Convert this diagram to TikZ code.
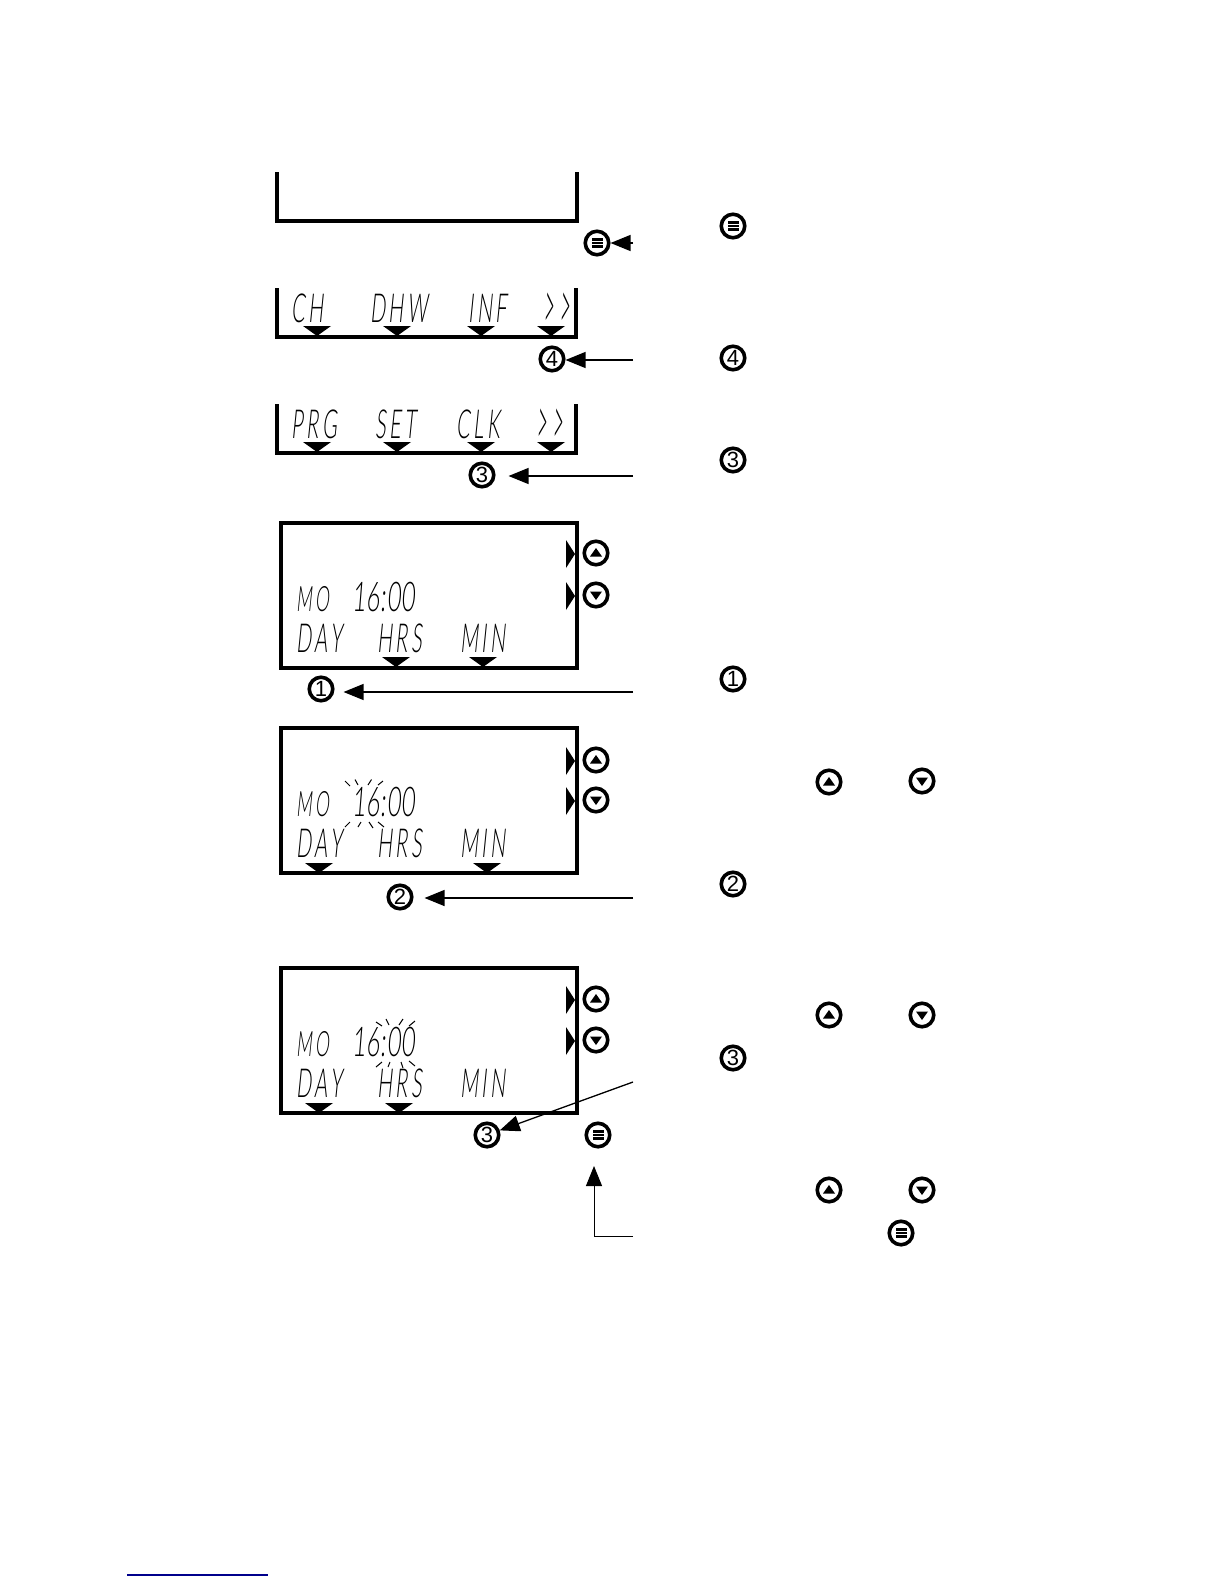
\documentclass[tikz,border=0pt]{standalone}
\usepackage{fontspec}
\setmainfont{Liberation Sans}
\newfontfamily\lcdfont[UprightFont=* Light,FakeStretch=0.5,FakeSlant=0.1,LetterSpace=9]{Lato}
\newfontfamily\lcdwide[UprightFont=* Light,FakeStretch=0.57,FakeSlant=0.08,LetterSpace=2]{Lato}
\newfontfamily\lcdchev[UprightFont=* Light,FakeStretch=0.45,FakeSlant=0.1,LetterSpace=14]{Lato}
\usetikzlibrary{arrows.meta}
\tikzset{
  panelline/.style={line width=3.3pt},
  lcdframe/.style={line width=4pt},
  arrtip/.style={-{Triangle[length=20pt,width=16pt]}},
  arr/.style={line width=1.3pt,arrtip},
  lcdtxt/.style={anchor=base west,inner sep=0pt,font=\lcdfont\fontsize{40}{40}\selectfont},
  lcdsmall/.style={anchor=base west,inner sep=0pt,font=\lcdfont\fontsize{35}{35}\selectfont},
  lcdclock/.style={anchor=base west,inner sep=0pt,font=\lcdwide\fontsize{41}{41}\selectfont},
  lcdarrows/.style={anchor=base west,inner sep=0pt,font=\lcdchev\fontsize{40}{40}\selectfont},
  tick/.style={line width=1pt},
  btn/.style={circle,draw=black,fill=white,line width=3.6pt,minimum size=23.5pt,inner sep=0pt,font=\fontsize{22}{22}\selectfont},
  menubtn/.style={btn,path picture={
    \fill[black] ([xshift=-5.5pt,yshift=-5pt]path picture bounding box.center) rectangle ++(11pt,2.6pt);
    \fill[black] ([xshift=-5.5pt,yshift=-1.3pt]path picture bounding box.center) rectangle ++(11pt,2.6pt);
    \fill[black] ([xshift=-5.5pt,yshift=2.4pt]path picture bounding box.center) rectangle ++(11pt,2.6pt);}},
  upbtn/.style={btn,path picture={
    \fill[black] ([xshift=-6pt,yshift=-3.5pt]path picture bounding box.center) -- ++(12pt,0) -- ++(-6pt,8.5pt) -- cycle;}},
  downbtn/.style={btn,path picture={
    \fill[black] ([xshift=-6pt,yshift=3.5pt]path picture bounding box.center) -- ++(12pt,0) -- ++(-6pt,-8.5pt) -- cycle;}},
}
\newcommand{\softmark}[2]{\fill (#1-14,#2) -- (#1+14,#2) -- (#1,#2+10) -- cycle;}
\newcommand{\sidemark}[1]{\fill (566,#1-14) -- (575,#1) -- (566,#1+14) -- cycle;}
\newcommand{\tall}[1]{\scalebox{1}[1.7]{#1}}
\begin{document}
\begin{tikzpicture}[x=1pt,y=-1pt]
\useasboundingbox (0,0) rectangle (1224,1584);

% panel 1
\draw[panelline] (277,172) -- (277,221) -- (577,221) -- (577,172);
\node[menubtn] (m1) at (597,243) {};
\coordinate (t1) at (633,243);
\draw[arr] (t1) -- (m1);

% panel 2
\draw[panelline] (277,288) -- (277,337) -- (576,337) -- (576,288);
\node[lcdtxt] (p2a) at (291,322) {CH};
\node[lcdtxt] (p2b) at (370,322) {DHW};
\node[lcdtxt] (p2c) at (468,322) {INF};
\node[lcdarrows] (p2d) at (543,329) {\tall{>>}};
\softmark{317}{326}\softmark{397}{326}\softmark{481}{326}\softmark{551}{326}
\node[btn] (c4) at (552,359) {4};
\coordinate (t4) at (633,360);
\draw[arr] (t4) -- (c4.east |- t4);

% panel 3
\draw[panelline] (277,404) -- (277,453) -- (576,453) -- (576,404);
\node[lcdtxt] (p3a) at (291,438) {PRG};
\node[lcdtxt] (p3b) at (375,438) {SET};
\node[lcdtxt] (p3c) at (456,438) {CLK};
\node[lcdarrows] (p3d) at (536,445) {\tall{>>}};
\softmark{317}{442}\softmark{397}{442}\softmark{481}{442}\softmark{551}{442}
\node[btn] (c3a) at (482,475) {3};
\coordinate (t3a) at (633,476);
\draw[arr,shorten >=13pt] (t3a) -- (c3a.east |- t3a);

% panel 4
\draw[lcdframe] (281,523) rectangle (577,668);
\node[lcdsmall] (p4mo) at (296,611) {MO};
\node[lcdclock] (p4clk) at (352,611) {16:00};
\node[lcdtxt] (p4a) at (296,652) {DAY};
\node[lcdtxt] (p4b) at (377,652) {HRS};
\node[lcdtxt] (p4c) at (460,652) {MIN};
\softmark{396}{657}\softmark{483}{657}
\sidemark{554}\sidemark{596}
\node[upbtn] (u4) at (596,553) {};
\node[downbtn] (d4) at (596,595) {};
\node[btn] (c1) at (321,689) {1};
\coordinate (t1a) at (633,692);
\draw[arr,shorten >=9pt] (t1a) -- (c1.east |- t1a);

% panel 5
\draw[lcdframe] (281,728) rectangle (577,873);
\node[lcdsmall] (p5mo) at (296,816) {MO};
\node[lcdclock] (p5clk) at (352,816) {16:00};
\node[lcdtxt] (p5a) at (296,857) {DAY};
\node[lcdtxt] (p5b) at (377,857) {HRS};
\node[lcdtxt] (p5c) at (460,857) {MIN};
\softmark{319}{863}\softmark{487}{863}
\sidemark{761}\sidemark{801}
\node[upbtn] (u5) at (596,760) {};
\node[downbtn] (d5) at (596,800) {};
\foreach \a/\b/\c/\d in {345/781/350/786,355/779.5/358/785,371.5/779.5/368/785,383/781/378/785,350/822/345/827,361/822/358/827,369/822/373/828,378/822/384/827}
  \draw[tick] (\a,\b) -- (\c,\d);
\node[btn] (c2) at (400,897) {2};
\coordinate (t2) at (633,898);
\draw[arr,shorten >=11pt] (t2) -- (c2.east |- t2);

% panel 6
\draw[lcdframe] (281,968) rectangle (577,1113);
\node[lcdsmall] (p6mo) at (296,1056) {MO};
\node[lcdclock] (p6clk) at (352,1056) {16:00};
\node[lcdtxt] (p6a) at (296,1097) {DAY};
\node[lcdtxt] (p6b) at (377,1097) {HRS};
\node[lcdtxt] (p6c) at (460,1097) {MIN};
\softmark{319}{1103}\softmark{399}{1103}
\sidemark{1000}\sidemark{1041}
\node[upbtn] (u6) at (596,999) {};
\node[downbtn] (d6) at (596,1040) {};
\foreach \a/\b/\c/\d in {376/1022/382/1026,386/1019/389/1025,403/1019/399/1025,415/1021/409/1026,382/1062/376/1067,390/1062/388/1067,401/1062/403/1068,409/1061/415/1066}
  \draw[tick] (\a,\b) -- (\c,\d);
\node[btn] (c3b) at (487,1135) {3};
\node[menubtn] (m6) at (598,1135) {};
\coordinate (t3b) at (633,1082);
\draw[arr] (t3b) -- (c3b);
\coordinate (t6) at (633,1236);
\coordinate (t6b) at (594,1166);
\draw[line width=1pt,arrtip] (t6) -- (t6 -| t6b) -- (t6b);

% right-hand icons
\node[menubtn] (r1) at (733,226) {};
\node[btn] (r2) at (733,358) {4};
\node[btn] (r3) at (733,460) {3};
\node[btn] (r4) at (733,679) {1};
\node[upbtn] (r5) at (829,782) {};
\node[downbtn] (r6) at (922,781) {};
\node[btn] (r7) at (733,884) {2};
\node[upbtn] (r8) at (829,1015) {};
\node[downbtn] (r9) at (922,1015) {};
\node[btn] (r10) at (733,1058) {3};
\node[upbtn] (r11) at (829,1190) {};
\node[downbtn] (r12) at (922,1190) {};
\node[menubtn] (r13) at (901,1233) {};

% rule at the foot
\draw[line width=1.2pt,draw={rgb,255:red,0;green,0;blue,140}] (127,1575) -- (268,1575);
\end{tikzpicture}
\end{document}
